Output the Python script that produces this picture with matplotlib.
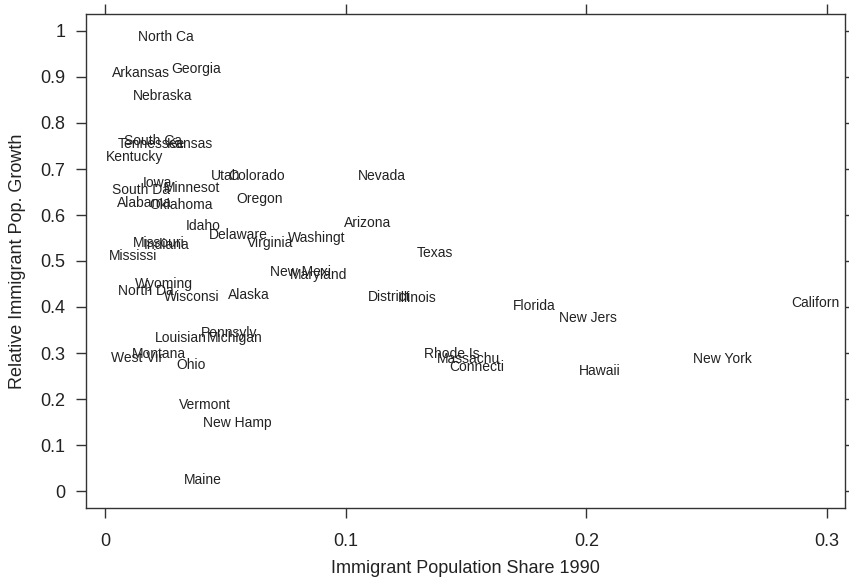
import matplotlib
matplotlib.use("Agg")
import matplotlib.pyplot as plt

labels = ["North Ca", "Arkansas", "Georgia", "Nebraska", "South Ca", "Tennessee", "Kansas",
          "Kentucky", "Utah", "Colorado", "Nevada", "Iowa", "Minnesot", "South Da", "Alabama",
          "Oklahoma", "Oregon", "Idaho", "Arizona", "Delaware", "Washingt", "Virginia",
          "Missouri", "Indiana", "Mississi", "Texas", "New Mexi", "Maryland", "Wyoming",
          "North Da", "Wisconsi", "Alaska", "District", "Illinois", "Florida", "Californ",
          "New Jers", "Pennsylv", "Louisian", "Michigan", "Montana", "West Vir", "Ohio",
          "Rhode Is", "Massachu", "Connecti", "New York", "Hawaii", "Vermont", "New Hamp", "Maine"]
share = [0.0253, 0.0149, 0.0378, 0.0241, 0.0199, 0.0191, 0.0353,
         0.0124, 0.0500, 0.0630, 0.1150, 0.0216, 0.0361, 0.0149, 0.0162,
         0.0315, 0.0643, 0.0407, 0.1090, 0.0556, 0.0880, 0.0685,
         0.0224, 0.0257, 0.0116, 0.1370, 0.0812, 0.0886, 0.0245,
         0.0168, 0.0361, 0.0599, 0.1180, 0.1295, 0.1784, 0.2950,
         0.2008, 0.0515, 0.0315, 0.0540, 0.0224, 0.0133, 0.0357,
         0.1440, 0.1510, 0.1545, 0.2564, 0.2054, 0.0415, 0.0548, 0.0407]
growth = [0.991, 0.913, 0.920, 0.861, 0.765, 0.757, 0.757,
          0.730, 0.687, 0.687, 0.689, 0.672, 0.663, 0.657, 0.630,
          0.624, 0.637, 0.580, 0.585, 0.559, 0.554, 0.543,
          0.543, 0.539, 0.515, 0.520, 0.480, 0.472, 0.454,
          0.439, 0.424, 0.430, 0.424, 0.422, 0.4065, 0.411,
          0.380, 0.346, 0.335, 0.335, 0.302, 0.293, 0.278,
          0.302, 0.291, 0.272, 0.291, 0.265, 0.191, 0.152, 0.028]

xticks = [0, 0.1, 0.2, 0.3]
xticklabels = ["0", "0.1", "0.2", "0.3"]
yticks = [0, 0.1, 0.2, 0.3, 0.4, 0.5, 0.6, 0.7, 0.8, 0.9, 1.0]
yticklabels = ["0", "0.1", "0.2", "0.3", "0.4", "0.5", "0.6", "0.7", "0.8", "0.9", "1"]

plt.rcParams['font.family'] = ['Liberation Sans', 'DejaVu Sans']
fig = plt.figure(figsize=(8.49, 5.79), dpi=100)
ax = fig.add_axes([86/849, 1 - 508/579, (845 - 86)/849, (508 - 14)/579])

for lab, xv, yv in zip(labels, share, growth):
    ax.text(xv, yv, lab, ha='center', va='center_baseline', fontsize=10, color='#222222')

x0px, x03px = 105, 827
ppu_x = (x03px - x0px) / 0.3
ax.set_xlim(-(x0px - 86) / ppu_x, 0.3 + (845 - x03px) / ppu_x)
y0px, y1px = 491, 31
ppu_y = (y0px - y1px) / 1.0
ax.set_ylim(-(508 - y0px) / ppu_y, 1 + (y1px - 14) / ppu_y)

ax.set_xticks(xticks)
ax.set_xticklabels(xticklabels)
ax.set_yticks(yticks)
ax.set_yticklabels(yticklabels)
ax.tick_params(axis='both', direction='out', length=7, width=1, color='#333333',
               labelsize=13, labelcolor='#222222', top=True, right=True,
               labeltop=False, labelright=False)
ax.tick_params(axis='y', pad=8)
ax.tick_params(axis='x', pad=11)
for s in ax.spines.values():
    s.set_color('#333333')
    s.set_linewidth(1)

ax.set_xlabel("Immigrant Population Share 1990", fontsize=13, color='#222222', labelpad=7)
ax.set_ylabel("Relative Immigrant Pop. Growth", fontsize=13, color='#222222', labelpad=10)

fig.savefig("out.png", dpi=100)
